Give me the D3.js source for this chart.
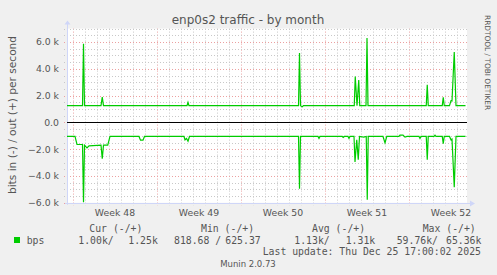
<!DOCTYPE html>
<html lang="en">
<meta charset="utf-8">
<style>
body { margin: 0; background: #f0f0f0; }
svg { display: block; }
text { font-family: "DejaVu Sans", sans-serif; fill: #555; }
.mono { font-family: "DejaVu Sans Mono", monospace; font-size: 9.8px; white-space: pre; }
</style>
<body>
<script src="https://d3js.org/d3.v7.min.js"></script>
<div id="chart"></div>
<script>
// values
var outTimes = ["2025-11-22T12:00", "2025-11-23T19:00", "2025-11-23T21:00", "2025-11-23T23:00",
  "2025-11-25T08:00", "2025-11-25T10:30", "2025-11-25T13:00",
  "2025-12-02T12:00", "2025-12-02T14:00", "2025-12-02T16:00",
  "2025-12-11T19:00", "2025-12-11T21:00", "2025-12-11T23:00", "2025-12-12T02:30", "2025-12-12T05:00",
  "2025-12-16T10:30", "2025-12-16T12:30", "2025-12-16T16:00", "2025-12-16T19:30", "2025-12-16T21:30",
  "2025-12-17T10:00", "2025-12-17T12:00", "2025-12-17T14:00",
  "2025-12-22T10:30", "2025-12-22T12:30", "2025-12-22T14:30",
  "2025-12-23T18:30", "2025-12-23T20:30", "2025-12-23T22:30",
  "2025-12-24T09:00", "2025-12-24T12:00", "2025-12-24T14:00", "2025-12-24T18:30", "2025-12-24T22:00",
  "2025-12-25T17:00"];
var outBps = [1250, 1250, 5870, 1250,
  1250, 1880, 1250,
  1250, 1500, 1250,
  1250, 5170, 1250, 1170, 1250,
  1250, 3420, 1250, 3170, 1250,
  1250, 6300, 1250,
  1250, 2800, 1250,
  1250, 1880, 1250,
  1250, 1620, 1600, 5250, 1250,
  1250];

var inTimes = ["2025-11-22T12:00", "2025-11-23T04:00", "2025-11-23T08:00", "2025-11-23T19:00",
  "2025-11-23T21:00", "2025-11-23T23:00", "2025-11-24T04:00", "2025-11-24T08:00",
  "2025-11-25T08:00", "2025-11-25T10:30", "2025-11-25T13:00", "2025-11-25T21:30", "2025-11-26T02:00",
  "2025-11-28T12:00", "2025-11-28T15:00", "2025-11-28T20:00", "2025-11-28T23:00",
  "2025-12-02T06:00", "2025-12-02T08:00", "2025-12-02T11:00", "2025-12-02T14:00", "2025-12-02T17:00",
  "2025-12-11T19:00", "2025-12-11T21:00", "2025-12-11T23:00",
  "2025-12-13T10:00", "2025-12-13T12:00", "2025-12-13T14:00",
  "2025-12-15T10:30", "2025-12-15T12:30", "2025-12-15T14:30",
  "2025-12-15T22:00", "2025-12-16T00:00", "2025-12-16T02:00",
  "2025-12-16T10:00", "2025-12-16T12:00", "2025-12-16T15:30", "2025-12-16T18:30", "2025-12-16T21:00",
  "2025-12-17T05:30", "2025-12-17T10:30", "2025-12-17T12:30", "2025-12-17T14:30",
  "2025-12-18T20:00", "2025-12-19T00:00", "2025-12-19T03:30",
  "2025-12-20T04:00", "2025-12-20T06:00", "2025-12-20T12:00", "2025-12-20T16:00", "2025-12-20T20:00",
  "2025-12-21T20:00", "2025-12-21T22:00", "2025-12-22T00:00",
  "2025-12-22T10:30", "2025-12-22T12:30", "2025-12-22T14:30",
  "2025-12-23T02:00", "2025-12-23T04:00", "2025-12-23T06:00",
  "2025-12-23T18:30", "2025-12-23T20:30", "2025-12-23T22:30",
  "2025-12-24T09:00", "2025-12-24T12:00", "2025-12-24T14:00", "2025-12-24T18:30", "2025-12-24T22:00",
  "2025-12-25T17:00"];
var inBps = [1050, 1050, 1650, 1650,
  5950, 1700, 1900, 1750,
  1700, 2700, 1700, 1700, 1050,
  1050, 1330, 1330, 1050,
  1050, 1300, 1200, 1400, 1050,
  1050, 4950, 1050,
  1050, 1200, 1050,
  1050, 1120, 1050,
  1050, 1200, 1050,
  1050, 2950, 1300, 2780, 1050,
  1100, 1050, 5780, 1050,
  1050, 1530, 1050,
  1050, 950, 950, 1100, 1050,
  1050, 1200, 1050,
  1050, 2780, 1050,
  1050, 950, 1050,
  1050, 1580, 1050,
  1050, 1300, 1250, 4830, 1050,
  1050];

var weekLabels = ["Week 48", "Week 49", "Week 50", "Week 51", "Week 52"];
var weekStarts = ["2025-11-23", "2025-11-30", "2025-12-07", "2025-12-14", "2025-12-21"];
var legendHead = ["Cur (-/+)", "Min (-/+)", "Avg (-/+)", "Max (-/+)"];

var W = 497, H = 275;
var pLeft = 67, pRight = 467, pTop = 28.6, pBottom = 202.8;
var parse = d3.isoParse;

var svg = d3.select("#chart").append("svg")
    .attr("width", W)
    .attr("height", H);

svg.append("rect").attr("width", W).attr("height", H).attr("fill", "#f0f0f0");

var x = d3.scaleTime()
    .domain([new Date(2025, 10, 22, 12), new Date(2025, 11, 25, 20)])
    .range([pLeft, pRight]);

var y = d3.scaleLinear()
    .domain([-6000, 7000])
    .range([pBottom, pTop]);

svg.append("rect")
    .attr("x", pLeft).attr("y", pTop)
    .attr("width", pRight - pLeft).attr("height", pBottom - pTop)
    .attr("fill", "#fff");

// grid
var days = d3.timeDay.range(new Date(2025, 10, 23), x.domain()[1]);
var isWeek = function(d) { return d.getDay() === 0; };

svg.append("g").selectAll("line")
    .data(days)
  .enter().append("line")
    .attr("x1", function(d) { return Math.round(x(d)) + 0.5; })
    .attr("x2", function(d) { return Math.round(x(d)) + 0.5; })
    .attr("y1", pTop).attr("y2", pBottom + 3)
    .attr("stroke", function(d) { return isWeek(d) ? "#eba0a0" : "#c8c8c8"; })
    .attr("stroke-dasharray", "1,2");

var hvals = d3.range(-6000, 7001, 500);
svg.append("g").selectAll("line")
    .data(hvals)
  .enter().append("line")
    .attr("x1", pLeft - 3).attr("x2", pRight)
    .attr("y1", function(d) { return Math.round(y(d)) + 0.5; })
    .attr("y2", function(d) { return Math.round(y(d)) + 0.5; })
    .attr("stroke", function(d) { return d % 2000 === 0 ? "#eba0a0" : "#c8c8c8"; })
    .attr("stroke-dasharray", "1,2");

// axes lines with arrows
var axisColor = "#cfd6f8";
svg.append("line")
    .attr("x1", pLeft + 0.5).attr("x2", pLeft + 0.5)
    .attr("y1", pBottom + 2).attr("y2", pTop - 6)
    .attr("stroke", axisColor);
svg.append("path")
    .attr("d", "M" + (pLeft - 2.5) + "," + (pTop - 4) + "L" + (pLeft + 0.5) + "," + (pTop - 8) + "L" + (pLeft + 3.5) + "," + (pTop - 4) + "Z")
    .attr("fill", axisColor);
var yb = Math.round(pBottom) + 0.5;
svg.append("line")
    .attr("x1", pLeft - 2).attr("x2", pRight + 5)
    .attr("y1", yb).attr("y2", yb)
    .attr("stroke", axisColor);
svg.append("path")
    .attr("d", "M" + (pRight + 3) + "," + (yb - 3) + "L" + (pRight + 8) + "," + yb + "L" + (pRight + 3) + "," + (yb + 3) + "Z")
    .attr("fill", axisColor);

// y labels
var yAxis = d3.axisLeft(y)
    .tickValues(d3.range(-6000, 6001, 2000))
    .tickSize(0)
    .tickPadding(8)
    .tickFormat(function(d) { return d === 0 ? "0.0" : d3.format(".1f")(d / 1000) + " k"; });
var gy = svg.append("g").attr("transform", "translate(" + pLeft + ",0)").call(yAxis);
gy.select(".domain").remove();
gy.selectAll("text").style("font-size", "9.3px").attr("fill", "#555").attr("font-family", "DejaVu Sans");

// x labels, centered in each week
svg.append("g").selectAll("text")
    .data(weekStarts)
  .enter().append("text")
    .attr("x", function(d) { return x(d3.timeHour.offset(parse(d + "T00:00"), 84)); })
    .attr("y", 216)
    .attr("text-anchor", "middle")
    .style("font-size", "9.3px")
    .text(function(d, i) { return weekLabels[i]; });

// zero rule
svg.append("line")
    .attr("x1", pLeft).attr("x2", pRight)
    .attr("y1", Math.round(y(0)) + 0.5).attr("y2", Math.round(y(0)) + 0.5)
    .attr("stroke", "#000").attr("stroke-width", 1);

// series
var line = d3.line()
    .x(function(d) { return x(d.t); })
    .y(function(d) { return y(d.v); });

var outData = outTimes.map(function(t, i) { return {t: parse(t), v: outBps[i]}; });
var inData = inTimes.map(function(t, i) { return {t: parse(t), v: -inBps[i]}; });

[outData, inData].forEach(function(data) {
  svg.append("path")
      .datum(data)
      .attr("d", line)
      .attr("fill", "none")
      .attr("stroke", "#00cc00")
      .attr("stroke-width", 1.2);
});

// title and side texts
svg.append("text")
    .attr("x", 248).attr("y", 24)
    .attr("text-anchor", "middle")
    .style("font-size", "12px")
    .attr("fill", "#444")
    .text("enp0s2 traffic - by month");

svg.append("text")
    .attr("transform", "translate(15.5,115) rotate(-90)")
    .attr("text-anchor", "middle")
    .style("font-size", "10.6px")
    .text("bits in (-) / out (+) per second");

svg.append("text")
    .attr("transform", "translate(485,15) rotate(90)")
    .style("font-size", "7.4px")
    .attr("fill", "#d0d0d0")
    .text("RRDTOOL / TOBI OETIKER");

// legend
svg.append("rect").attr("x", 14).attr("y", 237).attr("width", 6).attr("height", 6).attr("fill", "#00cc00");

var legendItems = [
  [89.3, 231.5, legendHead[0]], [201, 231.5, legendHead[1]], [312, 231.5, legendHead[2]], [422.7, 231.5, legendHead[3]],
  [26.7, 243.8, "bps"],
  [78.3, 243.8, "1.00k/"], [128.3, 243.8, "1.25k"],
  [174, 243.8, "818.68 /"], [225.3, 243.8, "625.37"],
  [294.3, 243.8, "1.13k/"], [345.7, 243.8, "1.31k"],
  [396.7, 243.8, "59.76k/"], [446, 243.8, "65.36k"],
  [262.7, 255, "Last update: Thu Dec 25 17:00:02 2025"]
];
svg.append("g").selectAll("text")
    .data(legendItems)
  .enter().append("text")
    .attr("class", "mono")
    .attr("x", function(d) { return d[0]; })
    .attr("y", function(d) { return d[1]; })
    .text(function(d) { return d[2]; });

svg.append("text")
    .attr("x", 248).attr("y", 267)
    .attr("text-anchor", "middle")
    .style("font-size", "8.5px")
    .attr("fill", "#d0d0d0")
    .text("Munin 2.0.73");
</script>
</body>
</html>
